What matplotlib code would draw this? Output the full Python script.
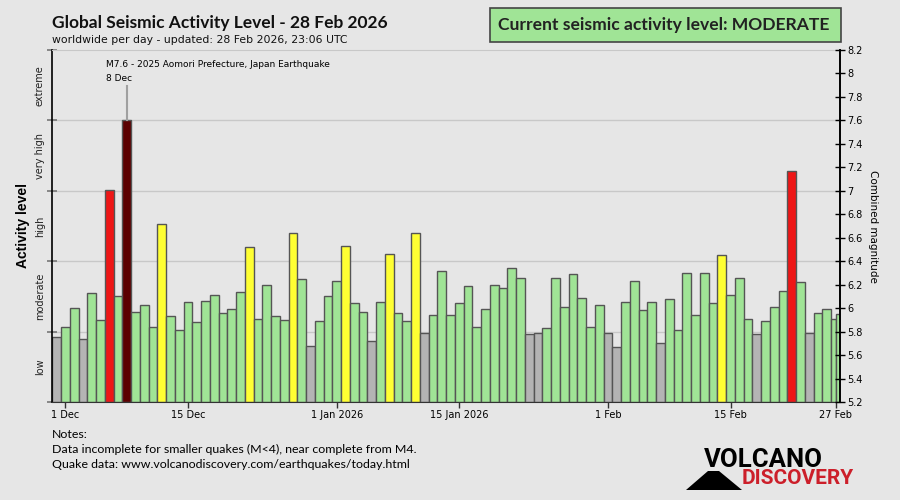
import matplotlib.pyplot as plt
import matplotlib.patches as mpatches
import numpy as np
import pandas as pd

# daily combined magnitude, 30 Nov 2025 .. 28 Feb 2026
start_date = '2025-11-30'
magnitudes = [
    5.75,                                                             # 30 Nov
    5.84, 6.00, 5.74, 6.13, 5.90, 7.01, 6.10, 7.60, 5.97, 6.03,       # 1-10 Dec
    5.84, 6.72, 5.93, 5.81, 6.05, 5.88, 6.06, 6.11, 5.96, 5.99,       # 11-20 Dec
    6.14, 6.52, 5.91, 6.20, 5.93, 5.90, 6.64, 6.25, 5.68, 5.89, 6.10,  # 21-31 Dec
    6.23, 6.53, 6.04, 5.97, 5.72, 6.05, 6.46, 5.96, 5.89, 6.64,       # 1-10 Jan
    5.79, 5.94, 6.32, 5.94, 6.04, 6.19, 5.84, 5.99, 6.20, 6.17,       # 11-20 Jan
    6.34, 6.26, 5.78, 5.79, 5.83, 6.26, 6.01, 6.29, 6.09, 5.84, 6.03,  # 21-31 Jan
    5.79, 5.67, 6.05, 6.23, 5.98, 6.05, 5.70, 6.08, 5.81, 6.30,       # 1-10 Feb
    5.94, 6.30, 6.04, 6.45, 6.11, 6.26, 5.91, 5.78, 5.89, 6.01,       # 11-20 Feb
    6.15, 7.17, 6.22, 5.79, 5.96, 5.99, 5.91, 5.95,                   # 21-28 Feb
]
tick_dates = ['2025-12-01', '2025-12-15', '2026-01-01', '2026-01-15',
              '2026-02-01', '2026-02-15', '2026-02-27']
tick_labels = ['1 Dec', '15 Dec', '1 Jan 2026', '15 Jan 2026', '1 Feb', '15 Feb', '27 Feb']

level_names = ['low', 'moderate', 'high', 'very high', 'extreme']
level_edges = [5.2, 5.8, 6.4, 7.0, 7.6, 8.2]
level_colors = ['#b4b4b4', '#a0e496', '#ffff33', '#ee1616', '#5c0000']

event_date = '2025-12-08'
event_text = 'M7.6 - 2025 Aomori Prefecture, Japan Earthquake'
event_day = '8 Dec'

bg = '#e6e6e6'
W, H = 900, 500

t0 = pd.Timestamp(start_date)
mags = np.array(magnitudes)
x = np.arange(len(mags), dtype=float)
widths = np.ones(len(mags))
# last day is only partly covered: 27 Feb / 28 Feb squeezed into one slot
widths[-2:] = 0.5
x[-2] -= 0.25
x[-1] -= 0.75
colors = [level_colors[i] for i in np.digitize(mags, level_edges[1:-1])]

fig = plt.figure(figsize=(9, 5), dpi=100, facecolor=bg)
ax = fig.add_axes([52.3 / W, 98 / H, 787.2 / W, 352 / H], facecolor=bg)

for y in level_edges[1:-1]:
    ax.axhline(y, color='#c8c8c8', lw=1, zorder=0)

ax.bar(x, mags - 5.2, bottom=5.2, width=widths, color=colors,
       edgecolor='#555555', linewidth=1, zorder=2)

ax.set_xlim(-0.5, 89.45)
ax.set_ylim(5.2, 8.2)

ticks_x = [(pd.Timestamp(d) - t0).days for d in tick_dates]
ax.set_xticks(ticks_x)
ax.set_xticklabels(tick_labels, fontsize=7)
ax.tick_params(axis='x', direction='inout', length=8, width=1, color='#333333', pad=2)

ax.set_yticks(level_edges)
ax.set_yticklabels([])
ax.tick_params(axis='y', direction='inout', length=7, width=1.2, color='#777777')
for i, name in enumerate(level_names):
    ax.text(-0.016, (level_edges[i] + level_edges[i + 1]) / 2, name, transform=ax.get_yaxis_transform(),
            rotation=90, ha='center', va='center', fontsize=7, color='#222222')
ax.text(-0.037, 6.7, 'Activity level', transform=ax.get_yaxis_transform(), rotation=90,
        ha='center', va='center', fontsize=10, fontweight='bold', family='Liberation Sans')

for s in ['left', 'right']:
    ax.spines[s].set_color('black')
    ax.spines[s].set_linewidth(1.2)
ax.spines['bottom'].set_color('#333333')
ax.spines['top'].set_color('#c8c8c8')

ax2 = ax.twinx()
ax2.set_ylim(5.2, 8.2)
rticks = np.round(np.arange(5.2, 8.21, 0.2), 1)
ax2.set_yticks(rticks)
ax2.set_yticklabels(['%g' % v for v in rticks], fontsize=7)
ax2.tick_params(axis='y', direction='inout', length=7, width=1, pad=2)
ax2.set_ylabel('Combined magnitude', rotation=270, fontsize=7.5, labelpad=11)
for s in ['left', 'top', 'bottom']:
    ax2.spines[s].set_visible(False)
ax2.spines['right'].set_linewidth(1.2)

# annotation of the strongest quake
xe = (pd.Timestamp(event_date) - t0).days
me = mags[xe]
ax.plot([xe, xe], [me, 7.89], color='#a0a0a0', lw=1.5, zorder=3, clip_on=False)
ax.text(xe - 2.37, 8.075, event_text, fontsize=6.5, ha='left', va='center')
ax.text(xe - 2.37, 7.956, event_day, fontsize=6.5, ha='left', va='center')

# title
fig.text(52 / W, 1 - 23 / H, 'Global Seismic Activity Level - 28 Feb 2026', fontsize=12.5,
         fontweight='bold', family='Lato', va='center', color='#111111')
fig.text(52 / W, 1 - 40 / H, 'worldwide per day - updated: 28 Feb 2026, 23:06 UTC', fontsize=7.8,
         va='center', color='#111111')

# status box
fig.patches.append(mpatches.Rectangle((490 / W, 1 - 42 / H), 351 / W, 34 / H, transform=fig.transFigure,
                                      facecolor='#a0e496', edgecolor='#444444', lw=1.2))
fig.text(664 / W, 1 - 25 / H, 'Current seismic activity level: MODERATE', fontsize=12.6,
         fontweight='bold', family='Lato', ha='center', va='center', color='#222222')

# notes
notes = ['Notes:', 'Data incomplete for smaller quakes (M<4), near complete from M4.',
         'Quake data: www.volcanodiscovery.com/earthquakes/today.html']
for i, line in enumerate(notes):
    fig.text(52 / W, 1 - (434 + 15 * i) / H, line, fontsize=8.9, family='Lato', va='center')

# logo
tri = np.array([[686, 490], [708, 471], [719, 471], [742, 490]], dtype=float)
tri[:, 0] /= W
tri[:, 1] = 1 - tri[:, 1] / H
fig.patches.append(mpatches.Polygon(tri, closed=True, transform=fig.transFigure, facecolor='black'))
fig.text(704 / W, 1 - 460 / H, 'VOLCANO', fontsize=18.5, fontweight='bold', family='Roboto',
         va='center', color='black')
fig.text(742 / W, 1 - 479 / H, 'DISCOVERY', fontsize=15, fontweight='bold', family='Roboto',
         va='center', color='#cc1f2a')

fig.savefig('out.png', dpi=100, facecolor=bg)
